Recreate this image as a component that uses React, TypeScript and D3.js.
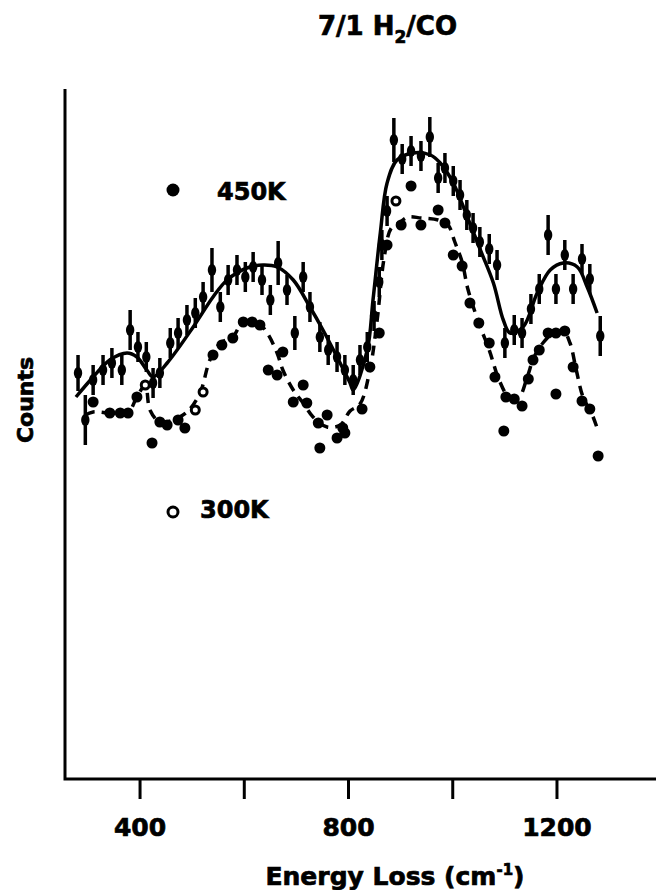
import { useRef, useEffect } from "react";
import * as d3 from "d3";

// Energy loss (cm-1) vs counts (arbitrary units)
const fit450X = [277, 310, 342, 375, 394, 413, 425, 452, 502, 540, 567, 605, 636, 663, 694, 726, 751, 778, 803, 809, 836, 847, 861, 874, 893, 924, 957, 976, 1001, 1028, 1053, 1078, 1097, 1110, 1135, 1162, 1187, 1212, 1239, 1258, 1277];
const fit450Y = [382, 402, 419, 426, 422, 409, 402, 416, 452, 482, 499, 511, 514, 512, 499, 472, 449, 422, 396, 389, 429, 479, 546, 596, 619, 626, 624, 616, 596, 562, 529, 496, 459, 446, 452, 486, 509, 516, 512, 492, 466];

const fit300X = [295, 310, 375, 394, 410, 419, 438, 463, 490, 515, 534, 554, 578, 598, 630, 644, 663, 674, 694, 713, 732, 759, 784, 803, 822, 841, 855, 868, 882, 897, 914, 939, 972, 991, 1004, 1018, 1029, 1050, 1070, 1089, 1108, 1127, 1143, 1156, 1173, 1193, 1212, 1225, 1237, 1250, 1267, 1277];
const fit300Y = [364, 367, 366, 382, 394, 369, 357, 359, 367, 386, 419, 436, 442, 457, 454, 446, 426, 409, 389, 376, 362, 352, 354, 368, 375, 409, 459, 520, 551, 556, 562, 561, 559, 554, 537, 517, 490, 456, 429, 399, 382, 382, 402, 422, 436, 446, 448, 436, 409, 382, 365, 351];

const pts450X = [281, 295, 310, 329, 346, 365, 381, 396, 412, 425, 438, 458, 473, 490, 506, 521, 538, 554, 569, 586, 602, 617, 634, 650, 665, 682, 697, 713, 726, 745, 761, 778, 793, 809, 822, 836, 849, 859, 864, 874, 887, 903, 920, 939, 956, 972, 985, 1001, 1014, 1027, 1039, 1052, 1070, 1085, 1100, 1118, 1133, 1150, 1166, 1183, 1198, 1215, 1231, 1248, 1263, 1283];
const pts450Y = [406, 359, 399, 409, 416, 409, 449, 432, 422, 396, 406, 436, 446, 459, 466, 482, 509, 472, 499, 509, 502, 512, 499, 479, 516, 489, 446, 502, 472, 442, 429, 422, 409, 399, 419, 432, 463, 497, 534, 568, 639, 620, 628, 623, 642, 601, 611, 598, 584, 564, 551, 537, 530, 514, 436, 449, 446, 470, 490, 544, 490, 524, 490, 520, 500, 443];
const pts450Err = [18, 25, 15, 15, 15, 15, 20, 15, 15, 15, 15, 15, 15, 15, 15, 15, 22, 15, 15, 15, 15, 15, 15, 15, 22, 15, 17, 15, 15, 15, 15, 15, 15, 15, 15, 15, 15, 15, 15, 15, 22, 15, 15, 15, 20, 15, 15, 15, 15, 15, 15, 15, 15, 15, 15, 15, 15, 15, 15, 20, 15, 15, 15, 15, 15, 20];

const pts300X = [310, 342, 362, 377, 394, 410, 423, 438, 452, 473, 486, 506, 521, 540, 557, 578, 598, 615, 630, 646, 663, 674, 694, 713, 720, 742, 745, 759, 778, 789, 793, 826, 841, 859, 874, 891, 901, 920, 939, 972, 985, 1001, 1018, 1033, 1050, 1070, 1081, 1098, 1102, 1118, 1133, 1145, 1154, 1166, 1183, 1198, 1198, 1215, 1231, 1248, 1263, 1279];
const pts300Y = [377, 366, 366, 366, 382, 394, 336, 357, 354, 359, 351, 369, 387, 424, 434, 441, 457, 457, 454, 409, 404, 427, 377, 394, 376, 356, 331, 364, 341, 351, 346, 370, 412, 446, 534, 578, 554, 593, 554, 569, 556, 524, 513, 476, 456, 436, 402, 348, 382, 380, 373, 400, 419, 429, 446, 446, 385, 448, 412, 378, 370, 323];
const pts300Open = [5, 11, 12, 35];

const xTicks = [400, 600, 800, 1000, 1200];
const xTickLabels = [400, 800, 1200];
const legendLabels = ["450K", "300K"];

const FONT = "'DejaVu Sans', sans-serif";

const App = () => {
  const svgRef = useRef<SVGSVGElement>(null);

  useEffect(() => {
    const svg = d3.select(svgRef.current);
    svg.selectAll("*").remove();

    const x = d3.scaleLinear().domain([256, 1390]).range([65, 656]);
    const y = d3.scaleLinear().domain([0, 690]).range([779, 89]);

    // texto más grueso, como en la copia impresa
    const heavy = (sel: any) =>
      sel.attr("stroke", "#000").attr("stroke-width", 0.7);

    // marco de ejes
    svg
      .append("path")
      .attr("d", `M${x(256)},${y(690)} V${y(0)} H${x(1390)}`)
      .attr("fill", "none")
      .attr("stroke", "#000")
      .attr("stroke-width", 3);

    svg
      .append("g")
      .selectAll("line")
      .data(xTicks)
      .join("line")
      .attr("x1", (d) => x(d))
      .attr("x2", (d) => x(d))
      .attr("y1", y(0))
      .attr("y2", y(0) + 20)
      .attr("stroke", "#000")
      .attr("stroke-width", 3);

    svg
      .append("g")
      .selectAll("text")
      .data(xTickLabels)
      .join("text")
      .attr("x", (d) => x(d))
      .attr("y", 836)
      .attr("text-anchor", "middle")
      .style("font", `bold 25px ${FONT}`)
      .call(heavy)
      .text((d) => d);

    // títulos
    const xl = svg
      .append("text")
      .attr("x", 395)
      .attr("y", 885)
      .attr("text-anchor", "middle")
      .style("font", `bold 25px ${FONT}`)
      .call(heavy);
    xl.append("tspan").text("Energy Loss (cm");
    xl.append("tspan").attr("dy", -10).style("font-size", "15px").text("-1");
    xl.append("tspan").attr("dy", 10).text(")");

    svg
      .append("text")
      .attr("transform", "translate(33,400) rotate(-90)")
      .attr("text-anchor", "middle")
      .style("font", `bold 22px ${FONT}`)
      .call(heavy)
      .text("Counts");

    const title = svg
      .append("text")
      .attr("x", 318)
      .attr("y", 35)
      .style("font", `bold 26px ${FONT}`)
      .call(heavy);
    title.append("tspan").text("7/1 H");
    title.append("tspan").attr("dy", 8).style("font-size", "17px").text("2");
    title.append("tspan").attr("dy", -8).text("/CO");

    // curvas ajustadas
    const line = d3.line<number>().curve(d3.curveCatmullRom.alpha(0.5));

    svg
      .append("path")
      .attr("d", line.x((_, i) => x(fit450X[i])).y((d) => y(d))(fit450Y))
      .attr("fill", "none")
      .attr("stroke", "#000")
      .attr("stroke-width", 3.5);

    svg
      .append("path")
      .attr("d", line.x((_, i) => x(fit300X[i])).y((d) => y(d))(fit300Y))
      .attr("fill", "none")
      .attr("stroke", "#000")
      .attr("stroke-width", 3.5)
      .attr("stroke-dasharray", "10,7");

    // puntos 450K con barras de error
    const g450 = svg.append("g");
    g450
      .selectAll("line")
      .data(pts450Y)
      .join("line")
      .attr("x1", (_, i) => x(pts450X[i]))
      .attr("x2", (_, i) => x(pts450X[i]))
      .attr("y1", (d, i) => y(d + pts450Err[i]))
      .attr("y2", (d, i) => y(d - pts450Err[i]))
      .attr("stroke", "#000")
      .attr("stroke-width", 3.5);
    g450
      .selectAll("ellipse")
      .data(pts450Y)
      .join("ellipse")
      .attr("cx", (_, i) => x(pts450X[i]))
      .attr("cy", (d) => y(d))
      .attr("rx", 4.2)
      .attr("ry", 6)
      .attr("fill", "#000");

    // puntos 300K
    svg
      .append("g")
      .selectAll("circle")
      .data(pts300Y)
      .join("circle")
      .attr("cx", (_, i) => x(pts300X[i]))
      .attr("cy", (d) => y(d))
      .attr("r", (_, i) => (pts300Open.includes(i) ? 4 : 5.5))
      .attr("fill", (_, i) => (pts300Open.includes(i) ? "#fff" : "#000"))
      .attr("stroke", "#000")
      .attr("stroke-width", (_, i) => (pts300Open.includes(i) ? 3 : 0));

    // leyenda
    svg
      .append("circle")
      .attr("cx", 173)
      .attr("cy", 190)
      .attr("r", 6.5)
      .attr("fill", "#000");
    svg
      .append("text")
      .attr("x", 217)
      .attr("y", 200)
      .style("font", `bold 24px ${FONT}`)
      .call(heavy)
      .text(legendLabels[0]);

    svg
      .append("circle")
      .attr("cx", 173)
      .attr("cy", 512)
      .attr("r", 5)
      .attr("fill", "#fff")
      .attr("stroke", "#000")
      .attr("stroke-width", 3);
    svg
      .append("text")
      .attr("x", 200)
      .attr("y", 518)
      .style("font", `bold 24px ${FONT}`)
      .call(heavy)
      .text(legendLabels[1]);

    return () => {
      svg.selectAll("*").remove();
    };
  }, []);

  return (
    <svg
      ref={svgRef}
      width={656}
      height={890}
      style={{ position: "absolute", left: 0, top: 0, background: "#fff" }}
    ></svg>
  );
};

export default App;
